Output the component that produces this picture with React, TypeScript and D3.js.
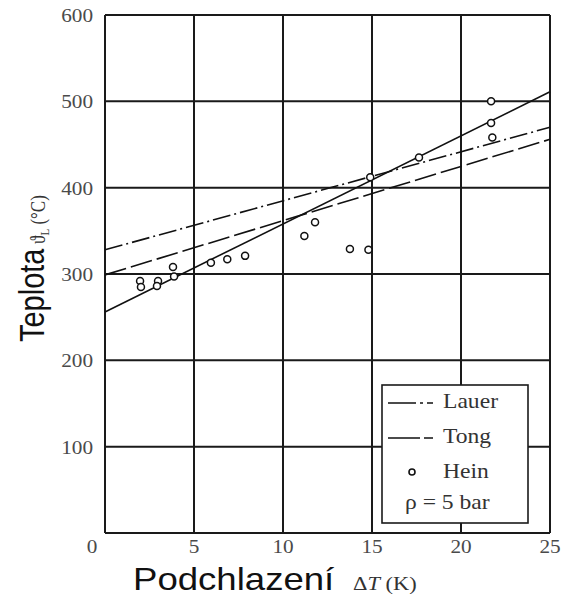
import * as d3 from "d3"
import React from "react"

// Hein measurements (subcooling K, temperature °C)
const heinDT = [1.97, 2.02, 2.98, 2.92, 3.82, 3.88, 5.95, 6.87, 7.87, 11.2, 11.8, 13.76, 14.8, 14.9, 17.64, 21.69, 21.69, 21.76]
const heinT = [292, 285, 292, 286, 308, 297, 313, 317, 321, 344, 360, 329, 328, 412, 435, 500, 475, 458]

// correlation lines, value at dT = 0 and dT = 25
const lineDT = [0, 25]
const lauerT = [328, 470]
const tongT = [299, 456]
const fitT = [256, 511]

const xTicks = [5, 10, 15, 20, 25]
const yTicks = [100, 200, 300, 400, 500, 600]

const W = 563
const H = 598
const SX = 1.18 // the picture is stretched sideways a bit

const App = () => {
    const x = d3.scaleLinear().domain([0, 25]).range([105, 550])
    const y = d3.scaleLinear().domain([0, 600]).range([533, 15])
    const line = d3.line<number>()
        .x((d, i) => x(lineDT[i]))
        .y(d => y(d))

    const serif = "'Liberation Serif', 'Times New Roman', serif"
    const sans = "'Liberation Sans', Arial, sans-serif"

    const lx = 382, ly = 385, lw = 146, lh = 138

    return (
        <svg width={W} height={H} style={{position: "absolute", left: 0, top: 0, background: "#fff"}}>
            <rect x={0} y={0} width={W} height={H} fill="#fff" />

            {/* grid */}
            <g stroke="#1a1a1a" strokeWidth={2}>
                {[0, ...xTicks].map(t => (
                    <line key={"gx" + t} x1={x(t)} x2={x(t)} y1={y(0)} y2={y(600)} />
                ))}
                {[0, ...yTicks].map(t => (
                    <line key={"gy" + t} x1={x(0)} x2={x(25)} y1={y(t)} y2={y(t)} />
                ))}
            </g>

            {/* correlation lines */}
            <g fill="none" stroke="#111" strokeWidth={1.6}>
                <path d={line(fitT) || ""} />
                <path d={line(lauerT) || ""} strokeDasharray="18,4,2,4" />
                <path d={line(tongT) || ""} strokeDasharray="22,5" />
            </g>

            {/* Hein points */}
            <g fill="#fff" stroke="#111" strokeWidth={1.5}>
                {heinDT.map((d, i) => (
                    <circle key={i} cx={x(d)} cy={y(heinT[i])} r={3.5} />
                ))}
            </g>

            {/* tick labels */}
            <g fontFamily={serif} fontSize={18} fill="#4a4a4a">
                {yTicks.map(t => (
                    <text key={"ty" + t} textAnchor="end"
                        transform={`translate(93,${y(t) + 7}) scale(${SX},1)`}>{t}</text>
                ))}
                <text textAnchor="middle" transform={`translate(92,553) scale(${SX},1)`}>0</text>
                {xTicks.map(t => (
                    <text key={"tx" + t} textAnchor="middle"
                        transform={`translate(${x(t)},553) scale(${SX},1)`}>{t}</text>
                ))}
            </g>

            {/* legend */}
            <rect x={lx} y={ly} width={lw} height={lh} fill="#fff" stroke="#1a1a1a" strokeWidth={1.6} />
            <g fill="none" stroke="#111" strokeWidth={1.6}>
                <line x1={388} x2={433} y1={403} y2={403} strokeDasharray="28,4,3,4,6" />
                <line x1={388} x2={433} y1={438} y2={438} strokeDasharray="32,4,9" />
                <circle cx={412} cy={472} r={3} fill="#fff" />
            </g>
            <g fontFamily={serif} fontSize={20} fill="#333">
                <text transform={`translate(443,408) scale(${SX},1)`}>Lauer</text>
                <text transform={`translate(443,443) scale(${SX},1)`}>Tong</text>
                <text transform={`translate(443,478) scale(${SX},1)`}>Hein</text>
                <text transform={`translate(405,509) scale(${SX},1)`}>ρ = 5 bar</text>
            </g>

            {/* axis titles */}
            <g fill="#111">
                <text transform={`translate(133,590) scale(${SX},1)`} fontFamily={sans} fontSize={31}>
                    Podchlazení
                </text>
                <text transform={`translate(353,590) scale(${SX},1)`} fontFamily={serif} fontSize={19} fill="#333">
                    Δ<tspan fontStyle="italic">T</tspan> (K)
                </text>
                <text transform={`translate(44,342) rotate(-90) scale(1,${SX})`} fontFamily={sans} fontSize={29}>
                    Teplota
                </text>
                <text transform={`translate(45,244) rotate(-90) scale(1,${SX})`} fontFamily={serif} fontSize={17} fill="#333">
                    ϑ<tspan fontSize={11} dy={3}>L</tspan><tspan dy={-3}> (°C)</tspan>
                </text>
            </g>
        </svg>
    )
}

export default App
